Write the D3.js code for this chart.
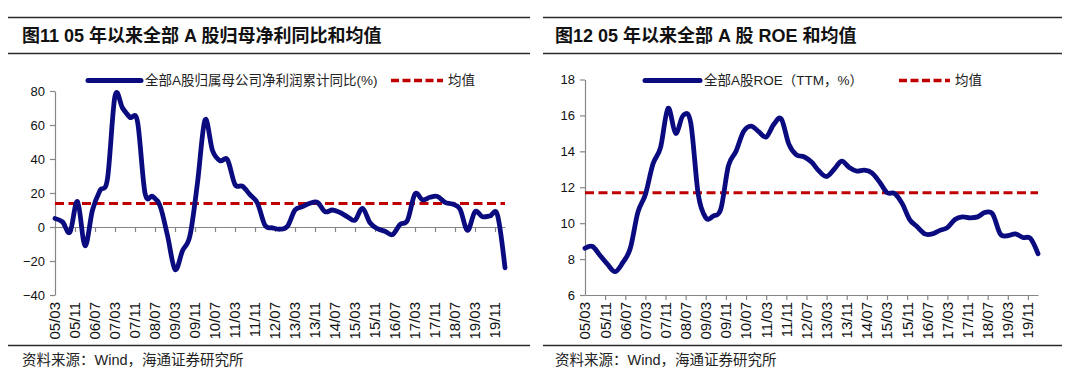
<!DOCTYPE html>
<html>
<head>
<meta charset="utf-8">
<script src="https://cdn.jsdelivr.net/npm/d3@7"></script>
<style>
  body { margin: 0; background: #fff; }
  text { font-family: "Liberation Sans", Arial, "Noto Sans CJK SC", sans-serif; }
</style>
</head>
<body>
<div id="chart"></div>
<script>
// quarter ends from 2005/03 to 2020/03, as months since 2005/03
var months = d3.range(0, 181, 3);

// 全部A股归属母公司净利润累计同比(%)
var profitYoy = [
	5, 3, -3, 15, -11, 10, 21.5, 28.5,
	77, 70, 64.5, 62, 20, 18, 12.5, -5,
	-25, -14, -5, 26, 63, 45, 39, 39.5,
	25, 24, 19, 14, 1, -0.5, -1.3, 0.5,
	10, 12, 14, 14.5, 9, 10, 8.5, 6,
	4, 11, 2.5, -1, -2.5, -4.5, 1.5, 4,
	19.5, 16, 17.5, 18, 14.5, 13.5, 10.5, -2,
	9, 6, 6.5, 7, -24
];
var profitMean = 13.8;

// 全部A股ROE（TTM，%）
var roe = [
	8.6, 8.7, 8.2, 7.7, 7.3, 7.8, 8.6, 10.6,
	11.6, 13.3, 14.2, 16.4, 15.0, 16.0, 15.6, 11.6,
	10.3, 10.4, 10.8, 13.2, 14.0, 15.1, 15.4, 15.1,
	14.8, 15.5, 15.8, 14.4, 13.8, 13.7, 13.4, 12.9,
	12.6, 13.0, 13.45, 13.1, 12.9, 12.95, 12.8, 12.3,
	11.7, 11.65, 11.1, 10.2, 9.8, 9.4, 9.4, 9.6,
	9.75, 10.2, 10.35, 10.3, 10.35, 10.6, 10.5, 9.4,
	9.3, 9.4, 9.2, 9.15, 8.3
];
var roeMean = 11.7;

// category labels, one every 8 months
var xLabels = ['05/03','05/11','06/07','07/03','07/11','08/07','09/03','09/11',
	'10/07','11/03','11/11','12/07','13/03','13/11','14/07','15/03','15/11',
	'16/07','17/03','17/11','18/07','19/03','19/11'];

var profitTicks = [-40, -20, 0, 20, 40, 60, 80];
var roeTicks = [6, 8, 10, 12, 14, 16, 18];

// month index of a 'yy/mm' label
var labelMonth = s => (+s.slice(0, 2) - 5) * 12 + (+s.slice(3) - 3);

var svg = d3.select('#chart')
			.append('svg')
			.attr('width', 1080)
			.attr('height', 382)
			.style('display', 'block');

svg.append('rect').attr('width', 1080).attr('height', 382).attr('fill', '#fff');

var blue = '#0b0b80';
var red = '#c00000';
var axisGrey = '#868686';

function drawPanel(p) {
	var g = svg.append('g');

	//frame rules and title
	[17.5, 53.5, 345.5].forEach(yy => {
		g.append('line')
			.attr('x1', p.left).attr('x2', p.right)
			.attr('y1', yy).attr('y2', yy)
			.attr('stroke', '#2b2b2b')
			.attr('stroke-width', 1.5);
	});

	g.append('text')
		.attr('x', p.titleX)
		.attr('y', 42)
		.attr('font-size', 18)
		.attr('font-weight', 'bold')
		.attr('fill', '#111')
		.text(p.title);

	g.append('text')
		.attr('x', p.titleX)
		.attr('y', 365)
		.attr('font-size', 14.5)
		.attr('fill', '#222')
		.text('资料来源：Wind，海通证券研究所');

	//scales
	var x = d3.scaleLinear().domain([0, 180]).range(p.xRange);
	var y = d3.scaleLinear().domain(p.yDomain).range(p.yRange);

	//y axis
	var yAxis = g.append('g')
				.attr('transform', `translate(${p.xRange[0]}, 0)`)
				.call(d3.axisLeft(y).tickValues(p.yTicks).tickSize(5).tickPadding(5).tickSizeOuter(0));

	//x axis on the zero line (left) or at the bottom (right)
	var xAxis = g.append('g')
				.attr('transform', `translate(0, ${y(p.xCross)})`)
				.call(d3.axisBottom(x).tickValues(xLabels.map(labelMonth).slice(1)).tickSize(5).tickSizeOuter(0).tickFormat(''));

	[yAxis, xAxis].forEach(a => {
		a.select('.domain').attr('stroke', axisGrey).attr('stroke-width', 1.2);
		a.selectAll('.tick line').attr('stroke', axisGrey).attr('stroke-width', 1.2);
	});
	yAxis.selectAll('text').attr('font-size', 13).attr('fill', '#111')
		.attr('font-family', '"Liberation Sans", Arial, sans-serif');

	//rotated category labels
	g.selectAll('.xlab')
		.data(xLabels)
		.enter()
		.append('text')
		.attr('class', 'xlab')
		.attr('transform', d => `translate(${x(labelMonth(d))}, 302) rotate(-90)`)
		.attr('text-anchor', 'end')
		.attr('dy', '0.36em')
		.attr('font-size', 15)
		.attr('fill', '#111')
		.text(d => d);

	//mean line
	g.append('line')
		.attr('x1', x(0)).attr('x2', x(180))
		.attr('y1', y(p.mean)).attr('y2', y(p.mean))
		.attr('stroke', red)
		.attr('stroke-width', 3)
		.attr('stroke-dasharray', '9,4.5');

	//series line
	var line = d3.line()
				.x((d, i) => x(months[i]))
				.y(d => y(d))
				.curve(d3.curveCardinal.tension(0));

	g.append('path')
		.datum(p.values)
		.attr('d', line)
		.attr('fill', 'none')
		.attr('stroke', blue)
		.attr('stroke-width', 4.8)
		.attr('stroke-linejoin', 'round')
		.attr('stroke-linecap', 'round');

	//legend
	var lg = g.append('g').attr('transform', 'translate(0, 80.5)');
	lg.append('line')
		.attr('x1', p.legend[0]).attr('x2', p.legend[1])
		.attr('stroke', blue).attr('stroke-width', 5).attr('stroke-linecap', 'round');
	lg.append('text')
		.attr('x', p.legend[1] + 4).attr('dy', '0.36em')
		.attr('font-size', 13.5).attr('fill', '#222')
		.text(p.seriesName);
	lg.append('line')
		.attr('x1', p.legend[2]).attr('x2', p.legend[3])
		.attr('stroke', red).attr('stroke-width', 3.5).attr('stroke-dasharray', '8,3.5');
	lg.append('text')
		.attr('x', p.legend[3] + 5).attr('dy', '0.36em')
		.attr('font-size', 13.5).attr('fill', '#222')
		.text('均值');
}

drawPanel({
	left: 8, right: 530, titleX: 22,
	title: '图11 05 年以来全部 A 股归母净利同比和均值',
	xRange: [55, 505], yDomain: [-40, 80], yRange: [295, 91],
	yTicks: profitTicks, xCross: 0,
	values: profitYoy, mean: profitMean,
	seriesName: '全部A股归属母公司净利润累计同比(%)',
	legend: [88, 141, 391, 443]
});

drawPanel({
	left: 543, right: 1062, titleX: 555,
	title: '图12 05 年以来全部 A 股 ROE 和均值',
	xRange: [585, 1038], yDomain: [6, 18], yRange: [295, 79.5],
	yTicks: roeTicks, xCross: 6,
	values: roe, mean: roeMean,
	seriesName: '全部A股ROE（TTM，%）',
	legend: [645, 700, 899, 950]
});
</script>
</body>
</html>
